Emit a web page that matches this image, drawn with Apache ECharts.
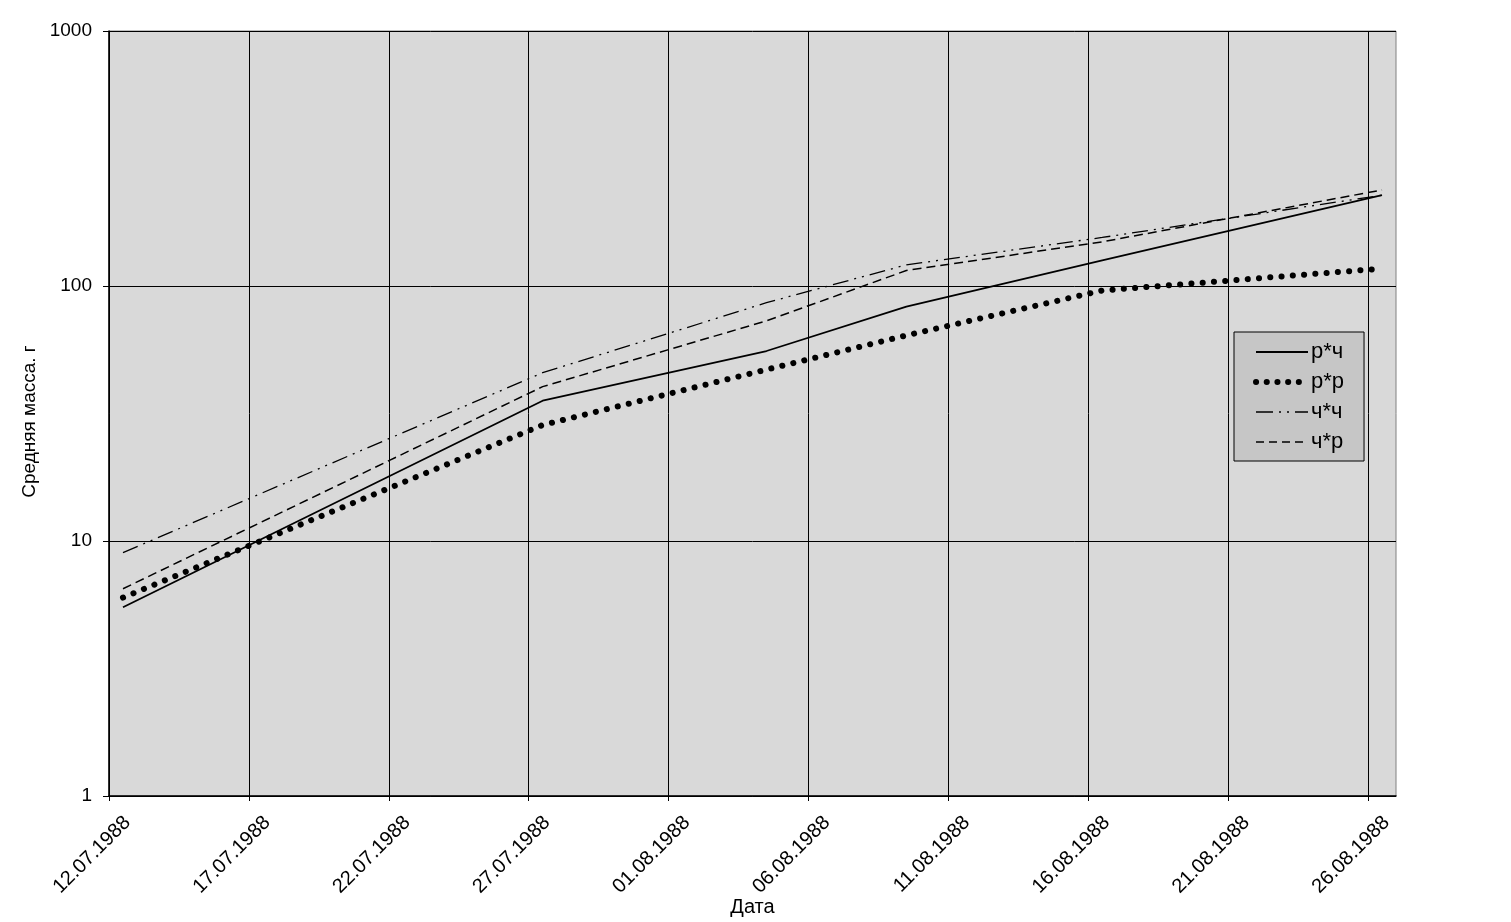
<!DOCTYPE html>
<html>
<head>
<meta charset="utf-8">
<script src="https://cdn.jsdelivr.net/npm/echarts@6/dist/echarts.min.js"></script>
<style>
html,body{margin:0;padding:0;background:#fff;}
#c{width:1511px;height:922px;}
</style>
</head>
<body>
<div id="c"></div>
<script>
// Dates of measurement
const dates = ['12.07.1988', '27.07.1988', '04.08.1988', '09.08.1988', '16.08.1988', '26.08.1988'];
// Series values (mean mass, g)
const seriesNames = ['р*ч', 'р*р', 'ч*ч', 'ч*р'];
const rch = [5.5, 35.5, 55.6, 83, 126, 227];
const rr  = [6.0, 28.5, 47, 64, 96, 117];
const chch = [9.0, 45.7, 86, 121, 155, 227];
const chr = [6.5, 40.3, 73, 115, 149, 238];
// Axis tick labels (dates, every 5 days)
const xTickLabels = ['12.07.1988','17.07.1988','22.07.1988','27.07.1988','01.08.1988','06.08.1988','11.08.1988','16.08.1988','21.08.1988','26.08.1988'];
const yTickLabels = ['1','10','100','1000'];

const base = Date.UTC(1988, 6, 12);
function dayOf(s){
  const p = s.split('.');
  return Math.round((Date.UTC(+p[2], +p[1]-1, +p[0]) - base) / 86400000);
}
function fmt(v){
  const d = new Date(base + v*86400000);
  const dd = String(d.getUTCDate()).padStart(2,'0');
  const mm = String(d.getUTCMonth()+1).padStart(2,'0');
  return dd + '.' + mm + '.' + d.getUTCFullYear();
}
const tickDays = xTickLabels.map(dayOf);
function pts(vals){ return dates.map((d,i)=>[dayOf(d)+0.5, vals[i]]); }

const font = '"Liberation Sans", Arial, sans-serif';
const styles = [
  {color:'#000', width:1.8, type:'solid'},
  {color:'#000', width:6, type:[0.1,11.2], cap:'round'},
  {color:'#000', width:1.3, type:[16,6,2,6,2,6]},
  {color:'#000', width:1.5, type:[9,5]}
];
const legendStyles = [
  {color:'#000', width:1.8, type:'solid'},
  {color:'#000', width:6, type:[0.1,10.6], cap:'round'},
  {color:'#000', width:1.5, type:[17,6,2,6,2,6]},
  {color:'#000', width:1.5, type:[8,5]}
];
const chart = echarts.init(document.getElementById('c'));
chart.setOption({
  animation: false,
  backgroundColor: '#ffffff',
  color: ['#000','#000','#000','#000'],
  grid: {left:109, top:31, right:115, bottom:126, containLabel:false, outerBoundsMode:'none',
    show:true, backgroundColor:'#d9d9d9', borderColor:'#808080', borderWidth:1},
  legend: {
    orient:'vertical', left:1234, top:332,
    backgroundColor:'#c6c6c6', borderColor:'#000', borderWidth:1,
    padding:[9,20,8,19], itemWidth:52, itemHeight:16, itemGap:8,
    itemStyle:{opacity:0},
    textStyle:{fontFamily:font, fontSize:22, color:'#000', padding:[0,0,0,-2]},
    data: seriesNames.map((n,i)=>({name:n, lineStyle:legendStyles[i], itemStyle:{opacity:0}}))
  },
  xAxis: {
    type:'value', min:0, max:46,
    name:'Дата', nameLocation:'middle', nameGap:101, nameMoveOverlap:false,
    nameTextStyle:{fontFamily:font, fontSize:20, color:'#000'},
    axisLine:{show:true, onZero:false, lineStyle:{color:'#000', width:1.5}},
    axisTick:{show:true, length:5, lineStyle:{color:'#000'}, customValues: tickDays},
    axisLabel:{rotate:45, fontFamily:font, fontSize:20, color:'#000', margin:5,
      align:'right', verticalAlign:'top', lineHeight:52,
      customValues: tickDays, formatter: v=>fmt(v)},
    splitLine:{show:true, lineStyle:{color:'#000', width:1}}
  },
  yAxis: {
    type:'log', logBase:10, min:1, max:1000,
    name:'Средняя масса. г', nameLocation:'middle', nameGap:70, nameRotate:90, nameMoveOverlap:false,
    nameTextStyle:{fontFamily:font, fontSize:19, color:'#000', padding:[0,0,0,-16]},
    axisLine:{show:true, lineStyle:{color:'#000', width:1.5}},
    axisTick:{show:true, length:6, lineStyle:{color:'#000'}},
    axisLabel:{fontFamily:font, fontSize:19, color:'#000', margin:17, formatter: v=>yTickLabels[Math.round(Math.log10(v))]},
    splitLine:{show:true, lineStyle:{color:'#000', width:1}},
    minorTick:{show:false}
  },
  series: seriesNames.map((n,i)=>({
    name:n, type:'line', symbol:'none', color:'#000',
    data:pts([rch, rr, chch, chr][i]), lineStyle:styles[i]
  }))
});
</script>
</body>
</html>
